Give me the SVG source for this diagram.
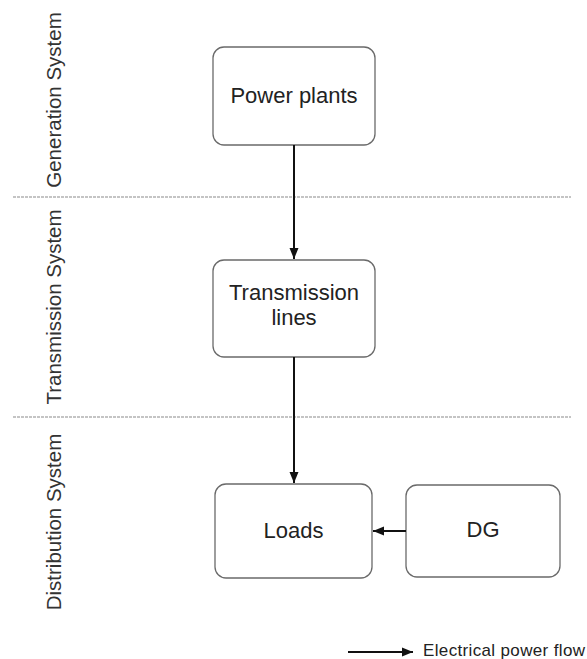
<svg xmlns="http://www.w3.org/2000/svg" width="587" height="659" viewBox="0 0 587 659">
<style>
.box{fill:#fff;stroke:#6a6a6a;stroke-width:1.3}
.lbl{font-family:"Liberation Sans",Arial,sans-serif;font-size:22px;fill:#222;text-anchor:middle}
.side{font-family:"Liberation Sans",Arial,sans-serif;font-size:20.5px;fill:#333;text-anchor:middle}
.sep{stroke:#8a8a8a;stroke-width:1.2;stroke-dasharray:3 1}
.conn{stroke:#111;stroke-width:2;fill:none}
</style>
<defs>
<marker id="ah" markerUnits="userSpaceOnUse" markerWidth="12" markerHeight="12" viewBox="0 0 12 12" refX="11" refY="6" orient="auto">
<path d="M0,1.5 L11,6 L0,10.5 Z" fill="#111"/>
</marker>
</defs>
<rect width="587" height="659" fill="#fff"/>
<g id="separators">
<line class="sep" x1="13" y1="197" x2="571" y2="197"/>
<line class="sep" x1="13" y1="417" x2="571" y2="417"/>
</g>
<g id="zone-labels">
<text class="side" transform="translate(61,100) rotate(-90)">Generation System</text>
<text class="side" transform="translate(61,307) rotate(-90)">Transmission System</text>
<text class="side" transform="translate(61,522) rotate(-90)">Distribution System</text>
</g>
<g id="power-plants">
<rect class="box" x="213" y="47" width="162" height="98" rx="11"/>
<text class="lbl" x="294" y="103">Power plants</text>
</g>
<g id="transmission-lines">
<rect class="box" x="213" y="260" width="162" height="97" rx="11"/>
<text class="lbl" x="294" y="300">Transmission</text>
<text class="lbl" x="294" y="325">lines</text>
</g>
<g id="loads">
<rect class="box" x="215" y="484" width="157" height="94" rx="11"/>
<text class="lbl" x="293.5" y="538">Loads</text>
</g>
<g id="dg">
<rect class="box" x="406" y="485" width="154" height="92" rx="11"/>
<text class="lbl" x="483" y="537">DG</text>
</g>
<g id="connectors">
<line class="conn" x1="294" y1="145" x2="294" y2="259" marker-end="url(#ah)"/>
<line class="conn" x1="294" y1="357" x2="294" y2="483" marker-end="url(#ah)"/>
<line class="conn" x1="406" y1="531" x2="373" y2="531" marker-end="url(#ah)"/>
</g>
<g id="legend">
<line class="conn" x1="348" y1="652" x2="413" y2="652" marker-end="url(#ah)"/>
<text x="423" y="656" font-family="'Liberation Sans',Arial,sans-serif" font-size="17" fill="#222" textLength="162">Electrical power flow</text>
</g>
</svg>
